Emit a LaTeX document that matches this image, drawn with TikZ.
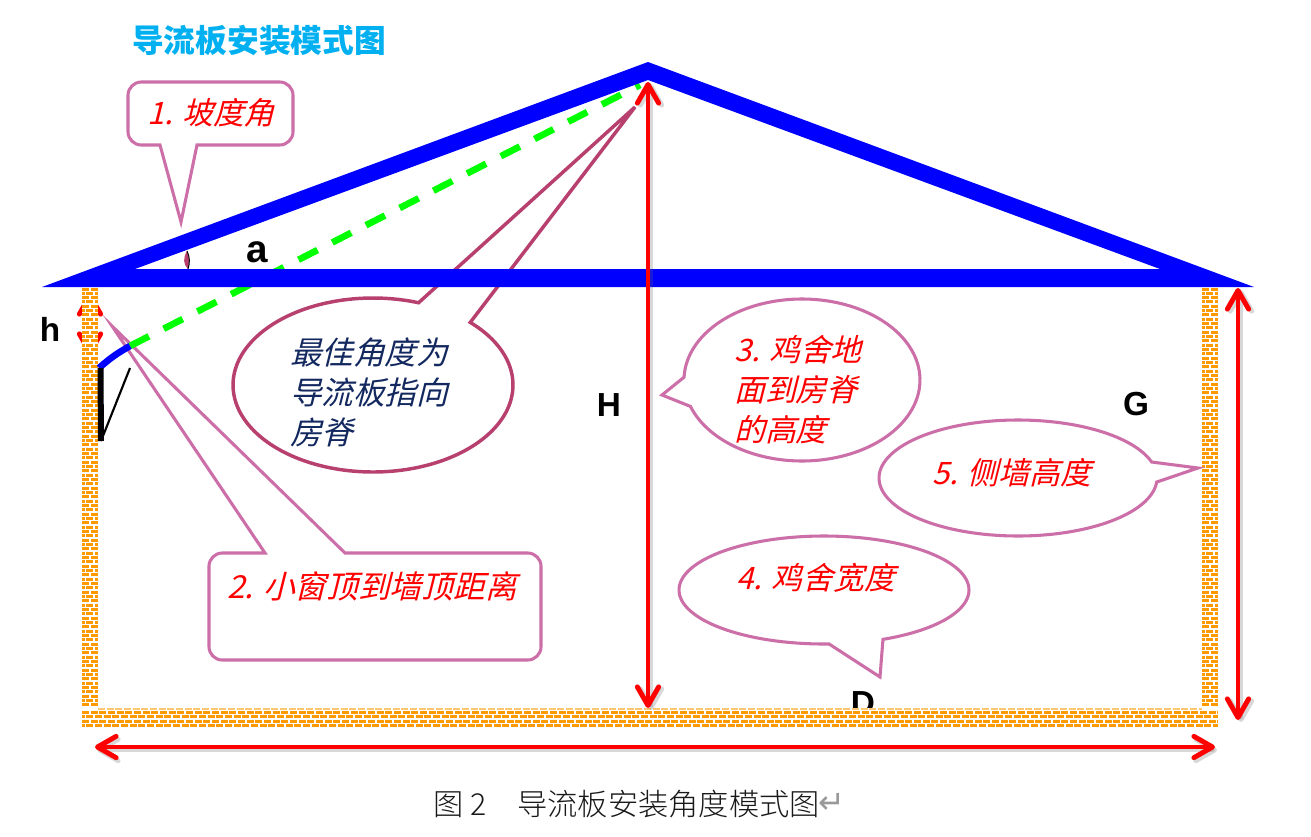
\documentclass[tikz,border=0pt]{standalone}
\usepackage{fontspec}
\usetikzlibrary{arrows.meta}
\newfontfamily\cjk{Noto Sans CJK SC}
\newfontfamily\cjkit[FakeSlant=0.25]{Noto Sans CJK SC}
\newfontfamily\cjklight{Noto Sans CJK SC Light}
\newfontfamily\lat{Liberation Sans}
\newfontfamily\sym{DejaVu Sans}
\definecolor{callpink}{HTML}{CC6FA8}
\definecolor{calldark}{HTML}{B8406F}
\definecolor{brick}{HTML}{FF9900}
\definecolor{navy}{HTML}{12285F}
\definecolor{titlecyan}{HTML}{00B0F0}
\tikzset{
  bubbleline/.style={draw=callpink,line width=2.3pt,line join=miter,fill=white},
  bubbledark/.style={draw=calldark,line width=2.6pt,line join=miter,fill=white},
  redlabel/.style={text=red,font=\cjkit\fontsize{23.2}{30}\selectfont,align=left,inner sep=0pt},
  navylabel/.style={text=navy,font=\cjkit\fontsize{23.7}{30}\selectfont,align=left,inner sep=0pt},
  letter/.style={font=\lat\bfseries\fontsize{25}{25}\selectfont,text=black,inner sep=0pt},
  redarrow/.style={red,line width=3.7pt,line cap=round,
    {Straight Barb[length=14pt,width=16pt,line width=3.7pt,round]}-{Straight Barb[length=14pt,width=16pt,line width=3.7pt,round]}},
  arrowshadow/.style={black!60,opacity=.25,line width=3.7pt,line cap=round,
    {Straight Barb[length=14pt,width=16pt,line width=3.7pt,round]}-{Straight Barb[length=14pt,width=16pt,line width=3.7pt,round]}},
  brickrow/.style={brick,line width=2.25pt,dash pattern=on 5.2pt off 1.3pt}
}
\newcommand{\bubblepath}[8]{% style, cx, cy, rx, ry, t1, t2, tip
  \draw[#1] plot[smooth,domain=#6:#7,samples=120] ({#2+#4*cos(\x)},{#3-#5*sin(\x)}) -- #8 -- cycle;}
\begin{document}
\begin{tikzpicture}[x=0.75pt,y=-0.75pt]
\useasboundingbox (0,0) rectangle (1311,836);
\fill[white] (0,0) rectangle (1311,836);
% names
\coordinate (roofL) at (42,287);
\coordinate (roofA) at (648,62);
\coordinate (roofR) at (1254,287);
\coordinate (innerL) at (135,269);
\coordinate (innerA) at (648,80);
\coordinate (innerR) at (1160,269);
\coordinate (ventWall) at (99,368);
\coordinate (ventEdge) at (130,346);
\coordinate (ridgeAim) at (640,85);
\coordinate (flapBottom) at (101,441);
\coordinate (flapTop) at (130,368);
% hidden h arrow, behind the wall
\draw[redarrow] (90,293) -- (90,355);
\fill[white] (82,287) rectangle (98,708);
% left wall and right wall bricks
\foreach \i in {0,...,96}{
  \pgfmathsetmacro{\yy}{289+\i*4.33}
  \pgfmathsetmacro{\ph}{mod(\i,2)*3.2}
  \draw[brickrow,dash phase=\ph pt] (82,\yy) -- (98,\yy);
  \draw[brickrow,dash phase=\ph pt] (1202,\yy) -- (1218,\yy);
}
% D label is cut by the floor
\node[letter] (lD) at (863,703) {D};
\fill[white] (82,708) rectangle (1218,730);
\foreach \i in {0,...,3}{
  \pgfmathsetmacro{\yy}{712.5+\i*4.33}
  \pgfmathsetmacro{\ph}{mod(\i,2)*3.2}
  \draw[brickrow,dash phase=\ph pt] (82,\yy) -- (1218,\yy);
}
\draw[brick!55,line width=1.2pt,dash pattern=on 5.2pt off 1.3pt] (98,709.2) -- (1202,709.2);
% callouts
\draw[bubbleline] (160,145) [rounded corners=10pt] -- (128,145) -- (128,82) -- (293,82) -- (293,145) [sharp corners] -- (197,145) -- (181,222) -- cycle;
\draw[bubbleline] (345,553) [rounded corners=10pt] -- (541,553) -- (541,660) -- (209,660) -- (209,553) [sharp corners] -- (265,553) -- (112,326) -- cycle;
\bubblepath{bubbledark}{373}{385}{140}{87}{71}{406}{(635,107)}
\bubblepath{bubbleline}{802}{380}{118}{81}{199}{538}{(662,395)}
\bubblepath{bubbleline}{1018}{478}{139}{58}{16}{356}{(1198,468)}
\bubblepath{bubbleline}{824}{590}{145}{54}{294}{632}{(880,677)}
% sight line
\draw[green,line width=5pt,dash pattern=on 16pt off 12.4pt] (ventEdge) -- (ridgeAim);
% roof
\fill[blue,even odd rule] (roofL) -- (roofA) -- (roofR) -- cycle (innerL) -- (innerA) -- (innerR) -- cycle;
% vent parts
\draw[blue,line width=5pt] (ventWall) to[bend left=6] (ventEdge);
\draw[black,line width=4.5pt] (ventWall)++(1.5,0) -- (flapBottom);
\draw[black,line width=1.6pt] (flapBottom) -- (flapTop);
% angle mark
\fill[calldark] (187,251) .. controls (183,258) and (183,264) .. (188,269) .. controls (190,263) and (190,257) .. (187,251) -- cycle;
\draw[black,line width=.7pt] (187,251) .. controls (190,257) and (190,263) .. (188,269);
% big arrows
\coordinate (hTop) at (648,82);
\coordinate (hBot) at (648,708);
\coordinate (gTop) at (1238,288);
\coordinate (gBot) at (1238,720);
\coordinate (dL) at (95,747);
\coordinate (dR) at (1215,747);
\draw[arrowshadow] ([shift={(2,3)}]dL) -- ([shift={(2,3)}]dR);
\draw[arrowshadow] ([shift={(3,2)}]gTop) -- ([shift={(3,2)}]gBot);
\draw[arrowshadow] ([shift={(3,2)}]hTop) -- ([shift={(3,2)}]hBot);
\draw[redarrow] (hTop) -- (hBot);
\draw[redarrow] (gTop) -- (gBot);
\draw[redarrow] (dL) -- (dR);
% labels
\node[font=\cjk\bfseries\fontsize{23.8}{28}\selectfont,text=titlecyan,inner sep=0pt] (title) at (259,41) {导流板安装模式图};
\node[redlabel] (t1) at (211,113) {1. 坡度角};
\node[redlabel,font=\cjkit\fontsize{23.8}{30}\selectfont] (t2) at (372,586) {2. 小窗顶到墙顶距离};
\node[redlabel] (t3) at (798,390) {3. 鸡舍地\\面到房脊\\的高度};
\node[redlabel] (t4) at (816,578) {4. 鸡舍宽度};
\node[redlabel] (t5) at (1012,473) {5. 侧墙高度};
\node[navylabel] (t0) at (369,392) {最佳角度为\\导流板指向\\房脊};
\node[letter,font=\lat\bfseries\fontsize{29}{29}\selectfont] (la) at (257,252) {a};
\node[letter] (lh) at (50,329) {h};
\node[letter] (lH) at (609,405) {H};
\node[letter] (lG) at (1136,404) {G};
\node[font=\cjklight\fontsize{22.7}{28}\selectfont,text=black!90,inner sep=0pt] (cap) at (627,804) {图 2　导流板安装角度模式图};
\node[font=\sym\fontsize{24}{26}\selectfont,text=black!40,inner sep=0pt] (ret) at (832,803) {↵};
\end{tikzpicture}
\end{document}
